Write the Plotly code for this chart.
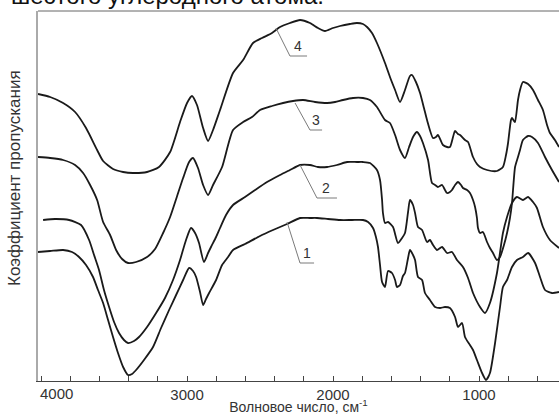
import plotly.graph_objects as go

# Wavenumber (cm-1) and transmittance (arbitrary units, offset spectra)
wn4 = [4021, 3938, 3849, 3767, 3692, 3616, 3575, 3507, 3438, 3370, 3274, 3192, 3116, 3048, 3000, 2966, 2932, 2890, 2856, 2822, 2774, 2685, 2616, 2548, 2486, 2418, 2363, 2295, 2226, 2158, 2103, 2055, 2000, 1952, 1884, 1836, 1795, 1767, 1733, 1699, 1644, 1610, 1575, 1541, 1507, 1473, 1459, 1432, 1404, 1377, 1356, 1315, 1295, 1281, 1247, 1219, 1199, 1178, 1164, 1144, 1130, 1096, 1075, 1041, 1014, 993, 945, 877, 836, 815, 801, 781, 774, 760, 753, 733, 719, 699, 664, 630, 596, 562, 534, 514, 480, 452]
t4 = [287, 284, 278, 269, 253, 231, 220, 212, 209, 208, 209, 214, 229, 259, 278, 285, 276, 253, 240, 251, 271, 308, 321, 338, 343, 348, 354, 358, 361, 358, 353, 350, 353, 355, 357, 358, 357, 354, 348, 338, 318, 304, 291, 279, 291, 305, 306, 299, 288, 273, 261, 243, 244, 246, 236, 234, 234, 244, 250, 247, 246, 241, 239, 224, 217, 214, 211, 210, 214, 226, 238, 261, 263, 260, 259, 281, 291, 299, 297, 291, 281, 271, 256, 248, 241, 234]

wn3 = [4021, 3938, 3849, 3767, 3712, 3664, 3616, 3575, 3527, 3486, 3445, 3404, 3349, 3274, 3219, 3164, 3116, 3068, 3027, 2986, 2959, 2925, 2890, 2856, 2822, 2760, 2685, 2616, 2555, 2500, 2418, 2342, 2274, 2205, 2123, 2041, 1986, 1932, 1863, 1795, 1747, 1699, 1644, 1610, 1575, 1541, 1507, 1479, 1452, 1425, 1404, 1384, 1349, 1322, 1301, 1281, 1253, 1233, 1219, 1199, 1185, 1164, 1144, 1123, 1110, 1082, 1062, 1041, 1027, 1014, 1007, 993, 973, 945, 925, 904, 877, 856, 829, 808, 788, 774, 753, 733, 719, 699, 664, 637, 596, 548, 500, 452]
t3 = [224, 223, 221, 216, 208, 196, 181, 159, 146, 131, 122, 118, 119, 124, 132, 148, 164, 185, 203, 219, 223, 213, 196, 186, 196, 214, 251, 259, 264, 271, 275, 278, 280, 281, 279, 278, 279, 281, 283, 283, 281, 274, 261, 258, 246, 231, 223, 234, 244, 249, 245, 238, 221, 198, 196, 194, 196, 191, 188, 189, 191, 196, 199, 196, 193, 191, 188, 181, 174, 163, 153, 148, 149, 139, 133, 128, 121, 124, 136, 148, 163, 178, 214, 224, 231, 241, 245, 244, 238, 224, 211, 199]

wn2 = [3986, 3904, 3808, 3726, 3671, 3637, 3603, 3569, 3534, 3500, 3466, 3432, 3404, 3363, 3329, 3274, 3212, 3151, 3096, 3048, 3007, 2973, 2945, 2918, 2884, 2856, 2836, 2801, 2774, 2733, 2685, 2603, 2534, 2452, 2363, 2295, 2226, 2158, 2103, 2041, 1973, 1904, 1836, 1795, 1747, 1699, 1678, 1664, 1658, 1644, 1623, 1589, 1555, 1527, 1507, 1486, 1473, 1452, 1438, 1418, 1390, 1356, 1336, 1315, 1288, 1253, 1219, 1185, 1151, 1110, 1075, 1041, 993, 959, 925, 877, 836, 808, 774, 740, 699, 664, 630, 603, 562, 514, 452]
t2 = [161, 162, 161, 156, 141, 126, 111, 91, 74, 59, 48, 41, 38, 40, 44, 54, 68, 83, 101, 121, 141, 153, 148, 138, 119, 128, 134, 144, 153, 166, 176, 184, 191, 199, 206, 211, 216, 216, 214, 214, 216, 219, 219, 219, 218, 211, 201, 181, 168, 158, 159, 154, 138, 143, 148, 169, 181, 176, 168, 154, 151, 139, 141, 136, 131, 134, 128, 129, 121, 114, 103, 88, 74, 68, 78, 108, 148, 164, 178, 184, 181, 184, 179, 173, 154, 141, 133]

wn1 = [4021, 3938, 3849, 3788, 3740, 3692, 3644, 3610, 3575, 3541, 3507, 3473, 3438, 3404, 3377, 3349, 3295, 3233, 3178, 3123, 3075, 3027, 2986, 2959, 2938, 2911, 2890, 2870, 2849, 2801, 2760, 2719, 2685, 2603, 2500, 2411, 2315, 2226, 2158, 2110, 2034, 1952, 1870, 1795, 1760, 1726, 1706, 1692, 1678, 1664, 1644, 1623, 1596, 1575, 1562, 1541, 1521, 1507, 1486, 1473, 1452, 1438, 1418, 1390, 1370, 1336, 1301, 1267, 1233, 1199, 1164, 1144, 1116, 1096, 1062, 1041, 1014, 979, 952, 925, 890, 856, 836, 808, 774, 740, 699, 664, 616, 582, 548, 500, 452]
t1 = [129, 130, 131, 129, 124, 116, 104, 91, 78, 61, 44, 28, 14, 6, 7, 11, 21, 34, 53, 71, 86, 101, 113, 110, 104, 89, 76, 82, 88, 101, 116, 124, 131, 137, 145, 151, 157, 163, 163, 163, 162, 161, 161, 161, 159, 153, 144, 134, 116, 99, 94, 110, 108, 101, 94, 96, 105, 108, 123, 131, 126, 121, 104, 101, 88, 81, 74, 73, 74, 73, 64, 54, 58, 44, 36, 31, 21, 8, 1, 8, 38, 74, 94, 101, 114, 121, 124, 128, 118, 104, 91, 88, 89]

series = [(wn1, t1), (wn2, t2), (wn3, t3), (wn4, t4)]

# Curve labels: number, leader path (wn, t) and text position
label_names = ["1", "2", "3", "4"]
leader_wn = [[2315, 2226, 2130], [2226, 2110, 1973], [2260, 2158, 2075], [2391, 2295, 2178]]
leader_t = [[159, 118, 118], [216, 183, 183], [278, 251, 251], [353, 325, 325]]
label_wn = [2178, 2048, 2117, 2240]
label_t = [128, 193, 261, 335]

major_ticks = [3000, 2000, 1000]
major_text = ["3000", "2000", "1000"]
first_label = "4000"

FONT = "Liberation Sans, Arial, sans-serif"

fig = go.Figure()
for wn, t in series:
    fig.add_trace(go.Scatter(x=wn, y=t, mode="lines",
                             line=dict(color="#1a1a1a", width=1.8, shape="spline", smoothing=0.6),
                             hoverinfo="skip", showlegend=False))

for name, lx, ly, tx, ty in zip(label_names, leader_wn, leader_t, label_wn, label_t):
    fig.add_trace(go.Scatter(x=lx, y=ly, mode="lines", line=dict(color="#7a7a7a", width=1),
                             hoverinfo="skip", showlegend=False))
    fig.add_annotation(x=tx, y=ty, text=name, showarrow=False,
                       font=dict(family=FONT, size=14, color="#333"))

fig.add_annotation(x=0, xref="paper", y=-12 / 370, yref="paper", text=first_label, showarrow=False,
                   xanchor="left", yanchor="middle", font=dict(family=FONT, size=15, color="#333"))
fig.add_annotation(x=-0.066, xref="paper", y=0.549, yref="paper", text="Коэффициент пропускания",
                   showarrow=False, textangle=-90, font=dict(family=FONT, size=17, color="#333"))
fig.add_annotation(x=-0.055, xref="paper", y=1.0, yref="paper",
                   text="шестого углеродного атома.", showarrow=False,
                   xanchor="left", yanchor="bottom", font=dict(family=FONT, size=24, color="#111"))
fig.add_shape(type="line", xref="paper", yref="paper", x0=0, x1=1, y0=1, y1=1,
              line=dict(color="#666", width=1))

fig.update_layout(
    width=559, height=415,
    margin=dict(l=38, r=0, t=11, b=34),
    paper_bgcolor="white", plot_bgcolor="white",
    font=dict(family=FONT, color="#333"),
    xaxis=dict(range=[4021, 452], tickvals=major_ticks, ticktext=major_text,
               ticks="inside", ticklen=5, tickcolor="#444", showline=True, linecolor="#444",
               linewidth=1, showgrid=False, zeroline=False,
               minor=dict(tick0=0, dtick=200, ticks="inside", ticklen=5, tickcolor="#444",
                          showgrid=False),
               tickfont=dict(family=FONT, size=15, color="#333"),
               title=dict(text="Волновое число, см<sup>-1</sup>", standoff=1,
                          font=dict(family=FONT, size=14, color="#333"))),
    yaxis=dict(range=[0, 370], showticklabels=False, ticks="", showline=True,
               linecolor="#aaa", linewidth=2, showgrid=False, zeroline=False),
)

fig.write_html("out.html")
